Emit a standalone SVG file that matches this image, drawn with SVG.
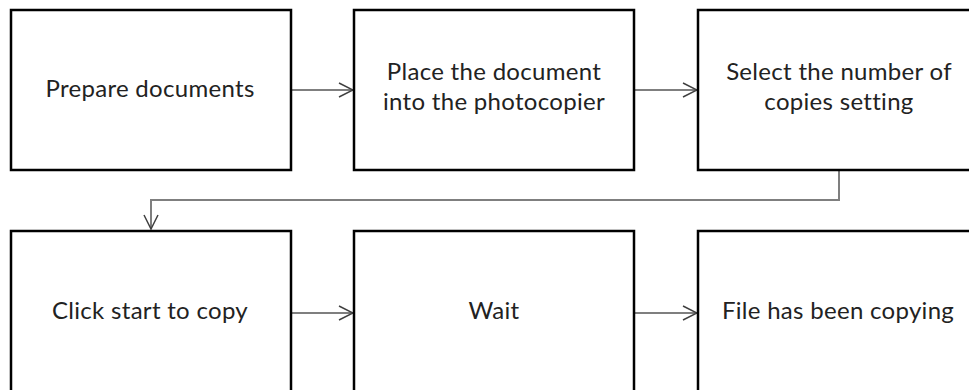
<svg xmlns="http://www.w3.org/2000/svg" width="969" height="390" viewBox="0 0 969 390">
  <defs>
    <style>
      .box { fill: #ffffff; stroke: #000000; stroke-width: 2.5; }
      .lbl { font-family: Lato, "Open Sans", sans-serif; font-size: 24px; letter-spacing: 0.3px; fill: #222222; text-anchor: middle; }
      .link { fill: none; stroke: #7f7f7f; stroke-width: 2; }
      .head { fill: none; stroke: #404040; stroke-width: 1.5; }
    </style>
    <marker id="arrow" viewBox="0 0 16 16" refX="15" refY="8" markerWidth="16" markerHeight="16" markerUnits="userSpaceOnUse" orient="auto">
      <path class="head" d="M1,1 L15,8 L1,15"/>
    </marker>
  </defs>
  <rect width="969" height="390" fill="#ffffff"/>

  <g id="connectors">
    <line class="link" x1="291" y1="90" x2="353" y2="90" marker-end="url(#arrow)"/>
    <line class="link" x1="634" y1="90" x2="697" y2="90" marker-end="url(#arrow)"/>
    <polyline class="link" points="839,170 839,200 151,200 151,229" marker-end="url(#arrow)"/>
    <line class="link" x1="291" y1="313" x2="353" y2="313" marker-end="url(#arrow)"/>
    <line class="link" x1="634" y1="313" x2="697" y2="313" marker-end="url(#arrow)"/>
  </g>

  <g id="prepare">
    <rect class="box" x="11" y="10" width="280" height="160"/>
    <text class="lbl" x="150" y="97">Prepare documents</text>
  </g>
  <g id="place">
    <rect class="box" x="354" y="10" width="280" height="160"/>
    <text class="lbl" x="494" y="80">Place the document</text>
    <text class="lbl" x="494" y="110">into the photocopier</text>
  </g>
  <g id="select">
    <rect class="box" x="698" y="10" width="282" height="160"/>
    <text class="lbl" x="839" y="80">Select the number of</text>
    <text class="lbl" x="839" y="110">copies setting</text>
  </g>
  <g id="click">
    <rect class="box" x="11" y="231" width="280" height="164"/>
    <text class="lbl" x="150" y="319">Click start to copy</text>
  </g>
  <g id="wait">
    <rect class="box" x="354" y="231" width="280" height="164"/>
    <text class="lbl" x="494" y="319">Wait</text>
  </g>
  <g id="done">
    <rect class="box" x="698" y="231" width="282" height="164"/>
    <text class="lbl" x="838" y="319">File has been copying</text>
  </g>
</svg>
